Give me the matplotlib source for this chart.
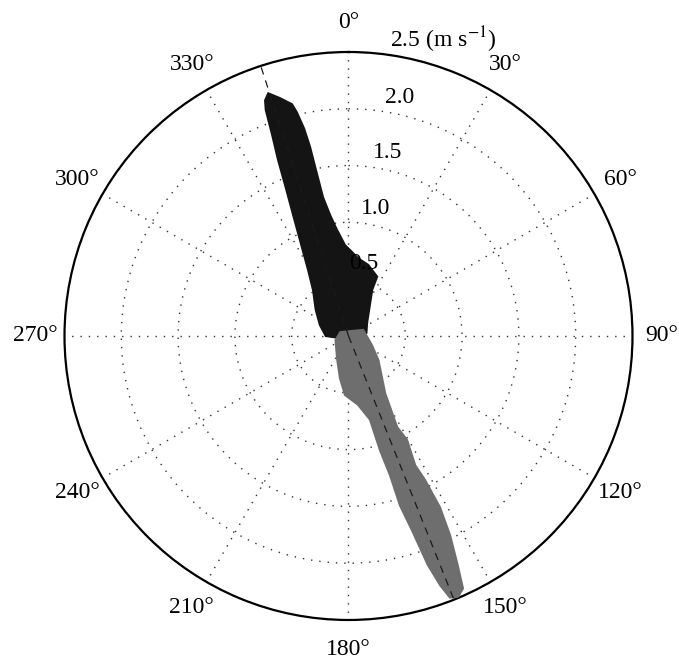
import numpy as np
import matplotlib
matplotlib.use("Agg")
import matplotlib.pyplot as plt

plt.rcParams['font.family'] = ['Liberation Serif', 'DejaVu Serif']
plt.rcParams['mathtext.fontset'] = 'stix'

# ---------------------------------------------------------------------------
# data: cloud outlines as (direction deg, speed m/s)
# ---------------------------------------------------------------------------

# flood cloud (black), outline traced clockwise from the tip
flood_theta = [341.7, 343.9, 346.3, 347.0, 347.9, 348.5, 348.9, 349.6, 351.3,
               353.8, 357.8, 2.4, 6.9, 15.4, 25.8, 27.1, 34.7, 54.9, 80.3,
               107.1, 256.8, 270.0, 291.1, 308.7, 322.3, 328.5, 333.2, 335.4,
               337.2, 338.2, 339.2, 339.9, 340.5]
flood_speed = [2.25, 2.18, 2.10, 2.02, 1.87, 1.70, 1.49, 1.24, 1.08,
               0.94, 0.80, 0.74, 0.69, 0.65, 0.58, 0.46, 0.33, 0.20, 0.16,
               0.06, 0.08, 0.20, 0.27, 0.37, 0.51, 0.68, 0.95, 1.17,
               1.44, 1.67, 1.89, 2.12, 2.20]

# ebb cloud (grey)
ebb_theta = [67.5, 111.0, 129.1, 147.4, 151.9, 150.6, 152.7, 152.0, 151.9,
             153.0, 154.5, 155.6, 157.2, 158.8, 159.8, 160.9, 161.9, 163.1,
             163.4, 164.6, 165.6, 172.2, 183.4, 191.4, 205.6, 252.3, 295.2]
ebb_speed = [0.14, 0.22, 0.34, 0.60, 0.91, 1.05, 1.28, 1.44, 1.71,
             1.97, 2.23, 2.44, 2.49, 2.47, 2.34, 2.13, 1.80, 1.56,
             1.28, 1.04, 0.76, 0.61, 0.52, 0.38, 0.23, 0.12, 0.08]

# principal axes (dashed)
axis_dirs = [342.0, 158.2]

ring_vals = [0.5, 1.0, 1.5, 2.0]
ring_labels = ['0.5', '1.0', '1.5', '2.0']
angle_ticks = list(range(0, 360, 30))
r_max = 2.5


def polar_ring(theta_deg):
    # unwrap so the outline does not jump across 0/360
    return np.deg2rad(np.unwrap(np.array(theta_deg, dtype=float), period=360))


fig = plt.figure(figsize=(6.79, 6.59), dpi=100)
ax = fig.add_axes([0.095, 0.0592, 0.8365, 0.8619], projection='polar')
ax.set_theta_zero_location('N')
ax.set_theta_direction(-1)
ax.set_ylim(0, r_max)

ax.set_rticks(ring_vals + [r_max])
ax.set_yticklabels([])
ax.set_thetagrids(angle_ticks, labels=[''] * len(angle_ticks))
ax.grid(True, color='#333333', linestyle=(0, (1, 5)), linewidth=1.0)
ax.spines['polar'].set_linewidth(1.6)
ax.spines['polar'].set_color('black')
ax.tick_params(length=0)

# clouds
ax.fill(polar_ring(flood_theta), flood_speed, color='#141414',
        edgecolor='#141414', linewidth=1.5, zorder=3)
ax.fill(polar_ring(ebb_theta), ebb_speed, color='#6e6e6e',
        edgecolor='#6e6e6e', linewidth=1.5, zorder=4)

# principal axes
for d in axis_dirs:
    ax.plot([np.deg2rad(d)] * 2, [0, r_max], color='#1a1a1a', lw=0.9,
            ls=(0, (6, 5)), zorder=5)

# radial labels
for v, lab in zip(ring_vals, ring_labels):
    ax.text(np.deg2rad(12), v + 0.15, lab, ha='center', va='center',
            fontsize=17, zorder=6)
ax.text(np.deg2rad(17.7), 2.735, '2.5 (m s$^{-1}$)', ha='center',
        va='center', fontsize=17, clip_on=False)

# direction labels
for a in angle_ticks:
    ax.text(np.deg2rad(a), 2.76, f'{a}°', ha='center', va='center',
            fontsize=17, clip_on=False)

fig.savefig('out.png', dpi=100)
